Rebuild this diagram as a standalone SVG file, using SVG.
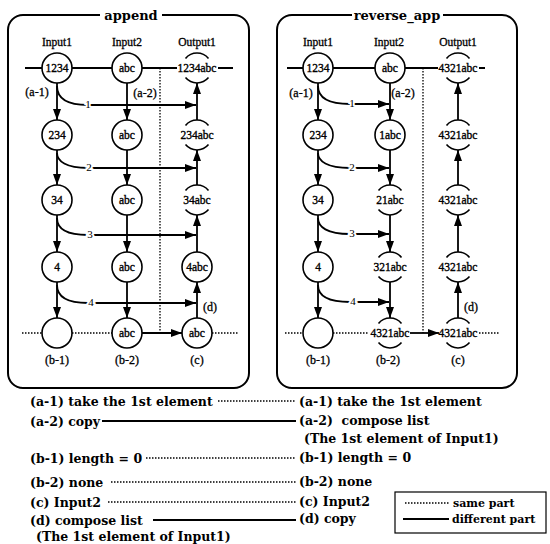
<svg xmlns="http://www.w3.org/2000/svg" width="550" height="544" viewBox="0 0 550 544">
  <style>
    .panel { fill: none; stroke: #000; stroke-width: 2; }
    .title { font-family: "DejaVu Serif", serif; font-weight: bold; font-size: 13px; text-anchor: middle; }
    .hdr { font-family: "Liberation Serif", serif; font-size: 11.5px; text-anchor: middle; stroke: #000; stroke-width: 0.3; }
    .lbl { font-family: "Liberation Serif", serif; font-size: 12px; text-anchor: middle; stroke: #000; stroke-width: 0.3; }
    .num { font-family: "Liberation Serif", serif; font-size: 11px; text-anchor: middle; stroke: #fff; stroke-width: 4; paint-order: stroke; fill: #000; }
    .nt { font-family: "Liberation Serif", serif; font-size: 11.5px; text-anchor: middle; stroke: #000; stroke-width: 0.35; }
    .node { fill: #fff; stroke: #000; stroke-width: 1.6; }
    .arc { fill: none; stroke: #000; stroke-width: 1.6; }
    .ln { fill: none; stroke: #000; stroke-width: 1.8; }
    .arr { fill: none; stroke: #000; stroke-width: 1.8; marker-end: url(#ah); }
    .dot { fill: none; stroke: #000; stroke-width: 1.3; stroke-dasharray: 1.5 1.5; }
    .leg { font-family: "DejaVu Serif", serif; font-weight: bold; font-size: 12.5px; }
    .legs { font-family: "DejaVu Serif", serif; font-weight: bold; font-size: 11px; }
  </style>
  <defs>
    <marker id="ah" viewBox="0 0 11 8" refX="11" refY="4" markerWidth="11" markerHeight="8" markerUnits="userSpaceOnUse" orient="auto">
      <path d="M0,0 L11,4 L0,8 z" fill="#000"/>
    </marker>
  </defs>

  <!-- ===== append panel ===== -->
  <g id="append-frame">
    <path class="panel" d="M100,15 L23,15 A15,15 0 0 0 8,30 L8,373 A15,15 0 0 0 23,388 L234,388 A15,15 0 0 0 249,373 L249,30 A15,15 0 0 0 234,15 L162,15"/>
    <text class="title" x="131" y="20">append</text>
    <text class="hdr" x="57" y="46">Input1</text>
    <text class="hdr" x="127" y="46">Input2</text>
    <text class="hdr" x="197" y="46">Output1</text>
  </g>

  <g id="append-connectors">
    <!-- input row line and bottom row guides -->
    <path class="ln" d="M25,68 L177,68 M218,68 L233,68"/>
    <path class="dot" d="M160,68 L160,333"/>
    <path class="dot" d="M22,333 L42,333 M72,333 L112,333 M212,333 L238,333"/>
    <path class="arr" d="M142,333 L182,333"/>
    <!-- Input1 column -->
    <path class="arr" d="M57,83 L57,120"/>
    <path class="arr" d="M57,150 L57,185"/>
    <path class="arr" d="M57,215 L57,252"/>
    <path class="arr" d="M57,282 L57,318"/>
    <!-- Input2 column -->
    <path class="arr" d="M127,83 L127,120"/>
    <path class="arr" d="M127,150 L127,185"/>
    <path class="arr" d="M127,215 L127,252"/>
    <path class="arr" d="M127,282 L127,318"/>
    <!-- Output1 column (upwards) -->
    <path class="arr" d="M197,120 L197,83"/>
    <path class="arr" d="M197,185 L197,150"/>
    <path class="arr" d="M197,252 L197,215"/>
    <path class="arr" d="M197,318 L197,282"/>
    <!-- element transfers -->
    <path class="arr" d="M57,86 C57,98 66,105 88,105 L196,105"/>
    <path class="arr" d="M57,153 C57,161 66,168 88,168 L196,168"/>
    <path class="arr" d="M57,218 C57,228 66,235 88,235 L196,235"/>
    <path class="arr" d="M57,285 C57,296 66,303 88,303 L196,303"/>
    <text class="num" x="88" y="108">1</text>
    <text class="num" x="89" y="171">2</text>
    <text class="num" x="90" y="238">3</text>
    <text class="num" x="91" y="306">4</text>
    <text class="lbl" x="37" y="96">(a-1)</text>
    <text class="lbl" x="145" y="97">(a-2)</text>
    <text class="lbl" x="210" y="311">(d)</text>
  </g>

  <g id="append-in1-r1"><circle class="node" cx="57" cy="68" r="15"/><text class="nt" x="57" y="72">1234</text></g>
  <g id="append-in1-r2"><circle class="node" cx="57" cy="135" r="15"/><text class="nt" x="57" y="139">234</text></g>
  <g id="append-in1-r3"><circle class="node" cx="57" cy="200" r="15"/><text class="nt" x="57" y="204">34</text></g>
  <g id="append-in1-r4"><circle class="node" cx="57" cy="267" r="15"/><text class="nt" x="57" y="271">4</text></g>
  <g id="append-in1-r5"><circle class="node" cx="57" cy="333" r="15"/></g>

  <g id="append-in2-r1"><circle class="node" cx="127" cy="68" r="15"/><text class="nt" x="127" y="72">abc</text></g>
  <g id="append-in2-r2"><circle class="node" cx="127" cy="135" r="15"/><text class="nt" x="127" y="139">abc</text></g>
  <g id="append-in2-r3"><circle class="node" cx="127" cy="200" r="15"/><text class="nt" x="127" y="204">abc</text></g>
  <g id="append-in2-r4"><circle class="node" cx="127" cy="267" r="15"/><text class="nt" x="127" y="271">abc</text></g>
  <g id="append-in2-r5"><circle class="node" cx="127" cy="333" r="15"/><text class="nt" x="127" y="337">abc</text></g>

  <g id="append-out-r1"><path class="arc" d="M185.5,58.4 A15,15 0 0 1 208.5,58.4 M185.5,77.6 A15,15 0 0 0 208.5,77.6"/><text class="nt" x="197" y="72">1234abc</text></g>
  <g id="append-out-r2"><path class="arc" d="M185.5,125.4 A15,15 0 0 1 208.5,125.4 M185.5,144.6 A15,15 0 0 0 208.5,144.6"/><text class="nt" x="197" y="139">234abc</text></g>
  <g id="append-out-r3"><path class="arc" d="M185.5,190.4 A15,15 0 0 1 208.5,190.4 M185.5,209.6 A15,15 0 0 0 208.5,209.6"/><text class="nt" x="197" y="204">34abc</text></g>
  <g id="append-out-r4"><circle class="node" cx="197" cy="267" r="15"/><text class="nt" x="197" y="271">4abc</text></g>
  <g id="append-out-r5"><circle class="node" cx="197" cy="333" r="15"/><text class="nt" x="197" y="337">abc</text></g>

  <g id="append-footer">
    <text class="lbl" x="57" y="364">(b-1)</text>
    <text class="lbl" x="127" y="364">(b-2)</text>
    <text class="lbl" x="197" y="364">(c)</text>
  </g>

  <!-- ===== reverse_app panel ===== -->
  <g id="reverse-frame">
    <path class="panel" d="M352,15 L292,15 A15,15 0 0 0 277,30 L277,373 A15,15 0 0 0 292,388 L502,388 A15,15 0 0 0 517,373 L517,30 A15,15 0 0 0 502,15 L443,15"/>
    <text class="title" x="397" y="20">reverse_app</text>
    <text class="hdr" x="318" y="46">Input1</text>
    <text class="hdr" x="389" y="46">Input2</text>
    <text class="hdr" x="458" y="46">Output1</text>
  </g>

  <g id="reverse-connectors">
    <path class="ln" d="M287,68 L438,68 M479,68 L485,68"/>
    <path class="dot" d="M423,68 L423,333"/>
    <path class="dot" d="M285,333 L303,333 M333,333 L369,333 M479,333 L500,333"/>
    <path class="arr" d="M410,333 L439,333"/>
    <!-- Input1 column -->
    <path class="arr" d="M318,83 L318,120"/>
    <path class="arr" d="M318,150 L318,185"/>
    <path class="arr" d="M318,215 L318,252"/>
    <path class="arr" d="M318,282 L318,318"/>
    <!-- Input2 column -->
    <path class="arr" d="M390,83 L390,120"/>
    <path class="arr" d="M390,150 L390,185"/>
    <path class="arr" d="M390,215 L390,252"/>
    <path class="arr" d="M390,282 L390,318"/>
    <!-- Output1 column (upwards) -->
    <path class="arr" d="M458,120 L458,83"/>
    <path class="arr" d="M458,185 L458,150"/>
    <path class="arr" d="M458,252 L458,215"/>
    <path class="arr" d="M458,318 L458,282"/>
    <!-- element transfers -->
    <path class="arr" d="M318,86 C318,97 327,104 350,104 L389,104"/>
    <path class="arr" d="M318,153 C318,161 327,168 350,168 L389,168"/>
    <path class="arr" d="M318,218 C318,227 327,234 350,234 L389,234"/>
    <path class="arr" d="M318,285 C318,295 327,302 350,302 L389,302"/>
    <text class="num" x="352" y="107">1</text>
    <text class="num" x="352" y="171">2</text>
    <text class="num" x="352" y="237">3</text>
    <text class="num" x="353" y="305">4</text>
    <text class="lbl" x="301" y="97">(a-1)</text>
    <text class="lbl" x="403" y="97">(a-2)</text>
    <text class="lbl" x="471" y="311">(d)</text>
  </g>

  <g id="reverse-in1-r1"><circle class="node" cx="318" cy="68" r="15"/><text class="nt" x="318" y="72">1234</text></g>
  <g id="reverse-in1-r2"><circle class="node" cx="318" cy="135" r="15"/><text class="nt" x="318" y="139">234</text></g>
  <g id="reverse-in1-r3"><circle class="node" cx="318" cy="200" r="15"/><text class="nt" x="318" y="204">34</text></g>
  <g id="reverse-in1-r4"><circle class="node" cx="318" cy="267" r="15"/><text class="nt" x="318" y="271">4</text></g>
  <g id="reverse-in1-r5"><circle class="node" cx="318" cy="333" r="15"/></g>

  <g id="reverse-in2-r1"><circle class="node" cx="390" cy="68" r="15"/><text class="nt" x="390" y="72">abc</text></g>
  <g id="reverse-in2-r2"><circle class="node" cx="390" cy="135" r="15"/><text class="nt" x="390" y="139">1abc</text></g>
  <g id="reverse-in2-r3"><path class="arc" d="M378.5,190.4 A15,15 0 0 1 401.5,190.4 M378.5,209.6 A15,15 0 0 0 401.5,209.6"/><text class="nt" x="390" y="204">21abc</text></g>
  <g id="reverse-in2-r4"><path class="arc" d="M378.5,257.4 A15,15 0 0 1 401.5,257.4 M378.5,276.6 A15,15 0 0 0 401.5,276.6"/><text class="nt" x="390" y="271">321abc</text></g>
  <g id="reverse-in2-r5"><path class="arc" d="M378.5,323.4 A15,15 0 0 1 401.5,323.4 M378.5,342.6 A15,15 0 0 0 401.5,342.6"/><text class="nt" x="390" y="337">4321abc</text></g>

  <g id="reverse-out-r1"><path class="arc" d="M446.5,58.4 A15,15 0 0 1 469.5,58.4 M446.5,77.6 A15,15 0 0 0 469.5,77.6"/><text class="nt" x="458" y="72">4321abc</text></g>
  <g id="reverse-out-r2"><path class="arc" d="M446.5,125.4 A15,15 0 0 1 469.5,125.4 M446.5,144.6 A15,15 0 0 0 469.5,144.6"/><text class="nt" x="458" y="139">4321abc</text></g>
  <g id="reverse-out-r3"><path class="arc" d="M446.5,190.4 A15,15 0 0 1 469.5,190.4 M446.5,209.6 A15,15 0 0 0 469.5,209.6"/><text class="nt" x="458" y="204">4321abc</text></g>
  <g id="reverse-out-r4"><path class="arc" d="M446.5,257.4 A15,15 0 0 1 469.5,257.4 M446.5,276.6 A15,15 0 0 0 469.5,276.6"/><text class="nt" x="458" y="271">4321abc</text></g>
  <g id="reverse-out-r5"><path class="arc" d="M446.5,323.4 A15,15 0 0 1 469.5,323.4 M446.5,342.6 A15,15 0 0 0 469.5,342.6"/><text class="nt" x="458" y="337">4321abc</text></g>

  <g id="reverse-footer">
    <text class="lbl" x="318" y="364">(b-1)</text>
    <text class="lbl" x="388" y="364">(b-2)</text>
    <text class="lbl" x="458" y="364">(c)</text>
  </g>

  <!-- ===== comparison table ===== -->
  <g id="comparison">
    <text class="leg" x="30" y="406">(a-1) take the 1st element</text>
    <text class="leg" x="30" y="426">(a-2) copy</text>
    <text class="leg" x="30" y="463">(b-1) length = 0</text>
    <text class="leg" x="30" y="487">(b-2) none</text>
    <text class="leg" x="30" y="507">(c) Input2</text>
    <text class="leg" x="30" y="525">(d) compose list</text>
    <text class="leg" x="36" y="541">(The 1st element of Input1)</text>

    <path class="dot" d="M218,401 L296,401"/>
    <path class="ln" d="M102,421 L296,421"/>
    <path class="dot" d="M146,458 L296,458"/>
    <path class="dot" d="M111,482 L296,482"/>
    <path class="dot" d="M108,502 L296,502"/>
    <path class="ln" d="M153,520 L296,520"/>

    <text class="leg" x="299" y="406">(a-1) take the 1st element</text>
    <text class="leg" x="299" y="425" xml:space="preserve">(a-2)  compose list</text>
    <text class="leg" x="304" y="443">(The 1st element of Input1)</text>
    <text class="leg" x="299" y="462">(b-1) length = 0</text>
    <text class="leg" x="299" y="486">(b-2) none</text>
    <text class="leg" x="299" y="506">(c) Input2</text>
    <text class="leg" x="299" y="523">(d) copy</text>
  </g>

  <g id="key">
    <rect x="395" y="492" width="151" height="41" fill="none" stroke="#000" stroke-width="1.2"/>
    <path class="dot" d="M405,503 L449,503"/>
    <path class="ln" d="M403,519 L449,519"/>
    <text class="legs" x="453" y="507">same part</text>
    <text class="legs" x="452" y="523">different part</text>
  </g>
</svg>
